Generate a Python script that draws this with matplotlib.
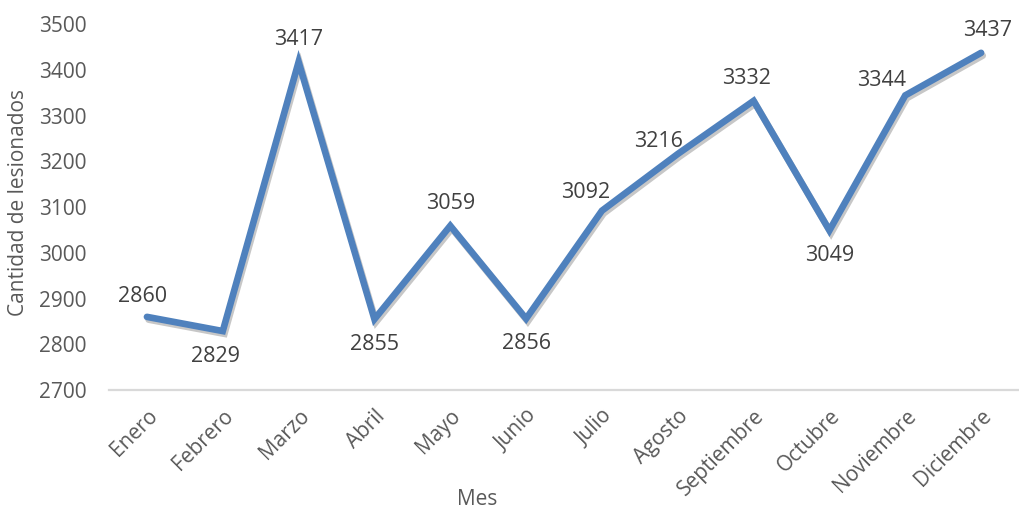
import matplotlib
matplotlib.use("Agg")
import matplotlib.pyplot as plt
import matplotlib.patheffects as pe

months = ["Enero", "Febrero", "Marzo", "Abril", "Mayo", "Junio", "Julio",
          "Agosto", "Septiembre", "Octubre", "Noviembre", "Diciembre"]
values = [2860, 2829, 3417, 2855, 3059, 2856, 3092, 3216, 3332, 3049, 3344, 3437]
yticks = [2700, 2800, 2900, 3000, 3100, 3200, 3300, 3400, 3500]

# label offsets (points)
offsets = [(-3, 15), (-5, -18), (0, 16), (0, -18), (0, 16), (0, -18),
           (-12, 13), (-14, 9), (-5, 16), (0, -18), (-17, 11), (5, 16)]

plt.rcParams['font.family'] = ['Open Sans', 'DejaVu Sans']

fig = plt.figure(figsize=(10.19, 5.16), dpi=100)
ax = fig.add_axes([0.107, 0.244, 0.893, 0.7095])

x = list(range(len(months)))
ax.plot(x, values, color="#4F81BD", linewidth=4.8, solid_capstyle="round",
        solid_joinstyle="miter",
        path_effects=[pe.SimpleLineShadow(offset=(1.2, -2.0), shadow_color="#000000", alpha=0.22),
                      pe.Normal()])

for xi, v, off in zip(x, values, offsets):
    ax.annotate(str(v), (xi, v), xytext=off, textcoords="offset points",
                ha="center", va="center", fontsize=15.5, color="#404040")

ax.set_xlim(-0.5, len(months) - 0.5)
ax.set_ylim(2700, 3500)
ax.set_yticks(yticks)
ax.set_yticklabels([str(t) for t in yticks], fontsize=15, color="#595959")
ax.set_xticks(x)
ax.set_xticklabels(months, rotation=45, ha="right", rotation_mode="anchor",
                   fontsize=15, color="#595959")
ax.tick_params(axis="both", length=0)
ax.tick_params(axis="x", pad=11)
ax.tick_params(axis="y", pad=16)

for s in ["top", "right", "left"]:
    ax.spines[s].set_visible(False)
ax.spines["bottom"].set_color("#D9D9D9")
ax.spines["bottom"].set_linewidth(1.6)

fig.text(0.468, 0.012, "Mes", fontsize=15, color="#595959", ha="center", va="bottom")
fig.text(0.018, 0.607, "Cantidad de lesionados", fontsize=15, color="#595959",
         rotation=90, ha="center", va="center")

fig.savefig("out.png", dpi=100)
